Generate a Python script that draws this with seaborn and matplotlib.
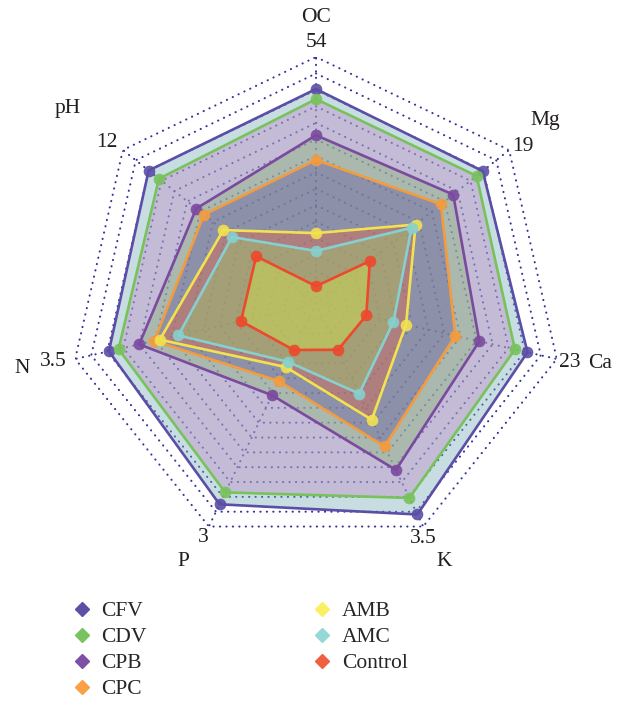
import numpy as np
import pandas as pd
import matplotlib
matplotlib.use("Agg")
import matplotlib.pyplot as plt
import seaborn as sns
from matplotlib.lines import Line2D

# ---------------- data ----------------
axes_names = ["OC", "Mg", "Ca", "K", "P", "N", "pH"]
axis_max = [54, 19, 23, 3.5, 3, 3.5, 12]
series_names = ["CFV", "CDV", "CPB", "CPC", "AMB", "AMC", "Control"]

CFV = [47.0, 16.4, 20.2, 3.31, 2.70, 3.01, 10.4]
CDV = [44.8, 15.8, 19.0, 3.05, 2.54, 2.87, 9.76]
CPB = [36.9, 13.5, 15.6, 2.61, 1.23, 2.57, 7.44]
CPC = [31.5, 12.3, 13.3, 2.24, 1.04, 2.35, 6.96]
AMB = [15.5, 9.8, 8.6, 1.82, 0.85, 2.27, 5.76]
AMC = [11.6, 9.4, 7.4, 1.41, 0.78, 2.00, 5.22]
Control = [3.9, 5.3, 4.8, 0.72, 0.62, 1.09, 3.72]
series_values = [CFV, CDV, CPB, CPC, AMB, AMC, Control]

# ---------------- styles ----------------
line_colors = ["#5b4ea6", "#78c25c", "#7a4a9e", "#f39c3f", "#f2e250", "#86d0cf", "#ec4a2c"]
legend_colors = ["#5a50a5", "#78c35f", "#7d50a5", "#faa046", "#faf064", "#96d7d7", "#f05f41"]
fill_colors = ["#76acb4", "#be89c6", "#83b474", "#5f55a2", "#e66641", "#94d06c", "#d7eb46"]
fill_alpha = 0.4
grid_color = "#33339a"
n_rings = 15
dot_style = (0, (0.1, 3.0))

sns.set_theme(style="white")
plt.rcParams["font.family"] = ["Liberation Serif", "DejaVu Serif"]

fig = plt.figure(figsize=(6.21, 7.05), dpi=100)
R = 247
cx, cy = 316, 304
ax = fig.add_axes([(cx - R) / 621, 1 - (cy + R) / 705, 2 * R / 621, 2 * R / 705],
                  projection="polar")
ax.set_theta_zero_location("N")
ax.set_theta_direction(-1)
ax.set_ylim(0, 1)
ax.grid(False)
ax.spines["polar"].set_visible(False)
ax.set_xticks([])
ax.set_yticks([])
ax.patch.set_alpha(0)

n = len(axes_names)
theta = np.arange(n) * 2 * np.pi / n
theta_c = np.append(theta, 2 * np.pi)

# grid (dotted heptagons and spokes)
for k in range(1, n_rings + 1):
    ax.plot(theta_c, [k / n_rings] * (n + 1), ls=dot_style, color=grid_color,
            lw=1.5, zorder=0.5, dash_capstyle="round")
for t in theta:
    ax.plot([t, t], [0, 1], ls=dot_style, color=grid_color, lw=1.5, zorder=0.5,
            dash_capstyle="round")

# series
for i, (name, vals) in enumerate(zip(series_names, series_values)):
    norm = np.array(vals) / np.array(axis_max)
    r_c = np.append(norm, norm[0])
    ax.fill(theta_c, r_c, color=fill_colors[i], alpha=fill_alpha, lw=0, zorder=1 + i * 0.01)
    df = pd.DataFrame({"theta": theta_c, "r": r_c})
    sns.lineplot(data=df, x="theta", y="r", sort=False, estimator=None, ax=ax,
                 color=line_colors[i], lw=1.9, zorder=3 + i * 0.01, legend=False)
    dfp = pd.DataFrame({"theta": theta, "r": norm})
    sns.scatterplot(data=dfp, x="theta", y="r", ax=ax, color=line_colors[i], s=62,
                    edgecolor=line_colors[i], linewidth=0.5, alpha=0.9,
                    zorder=4 + i * 0.01, legend=False)

ax.set_xlabel("")
ax.set_ylabel("")
ax.set_ylim(0, 1)

# axis labels and max-value labels
name_pos = [(0, 1.158), (51.3, 1.19), (101.9, 1.175), (153.6, 1.166),
            (207.3, 1.175), (257.7, 1.218), (308.3, 1.28)]
max_pos = [(0, 1.06), (52.8, 1.052), (102.9, 1.055), (155.4, 1.042),
           (205.8, 1.052), (257.6, 1.09), (307.8, 1.07)]
for name, mx, (a1, r1), (a2, r2) in zip(axes_names, axis_max, name_pos, max_pos):
    ax.text(np.deg2rad(a1), r1, name, ha="center", va="center", fontsize=15.5,
            color="#231f20", clip_on=False)
    ax.text(np.deg2rad(a2), r2, f"{mx:g}", ha="center", va="center", fontsize=15.5,
            color="#231f20", clip_on=False)

# legend
handles = [Line2D([0], [0], marker="D", ls="none", markersize=7.5,
                  markerfacecolor=c, markeredgecolor=c) for c in legend_colors]
fig.legend(handles, series_names, loc="upper left",
           bbox_to_anchor=(71 / 621, 1 - 601 / 705), ncol=2, frameon=False,
           fontsize=15.5, handlelength=1.0, handletextpad=0.42, labelspacing=0.28,
           columnspacing=7.65, borderpad=0, borderaxespad=0)

fig.savefig("out.png", dpi=100)
